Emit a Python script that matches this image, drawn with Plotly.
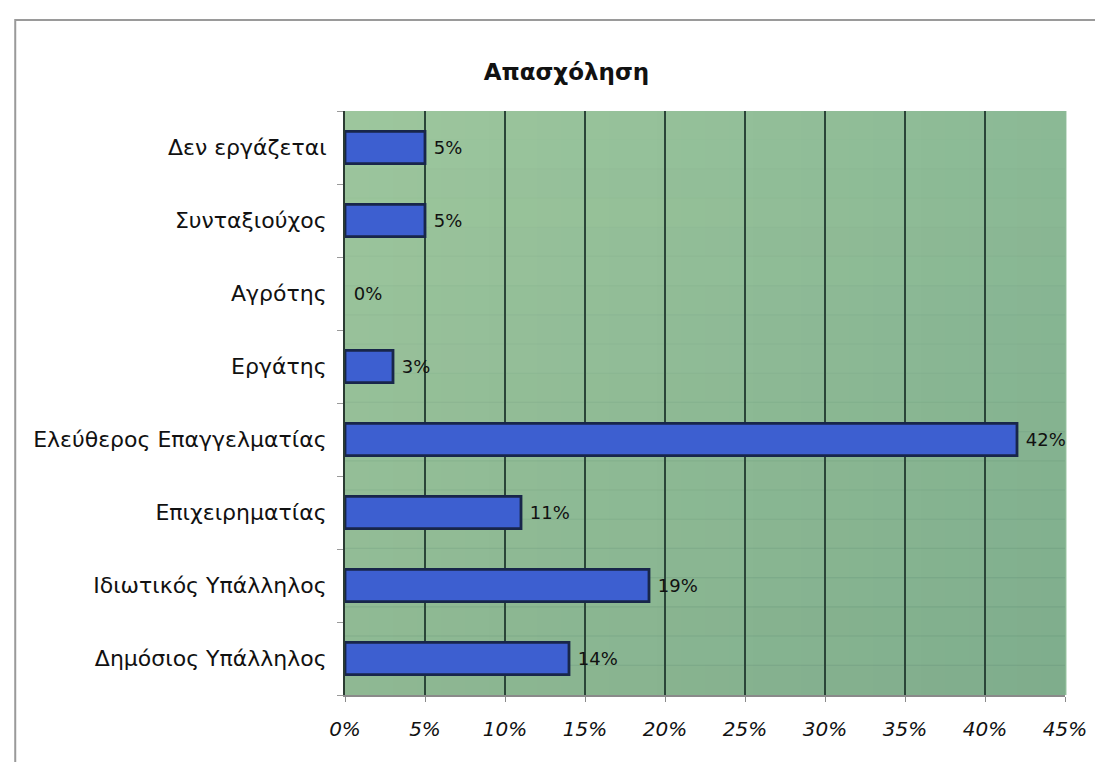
import plotly.graph_objects as go

categories = ["Δημόσιος Υπάλληλος", "Ιδιωτικός Υπάλληλος", "Επιχειρηματίας",
              "Ελεύθερος Επαγγελματίας", "Εργάτης", "Αγρότης", "Συνταξιούχος",
              "Δεν εργάζεται"]
values = [0.14, 0.19, 0.11, 0.42, 0.03, 0.00, 0.05, 0.05]
x_ticks = [0, 0.05, 0.10, 0.15, 0.20, 0.25, 0.30, 0.35, 0.40, 0.45]
title_text = "Απασχόληση"

FONT = "DejaVu Sans, Liberation Sans, Arial, sans-serif"

line_widths = [2.8 if v > 0 else 0 for v in values]

fig = go.Figure()
fig.add_trace(go.Bar(
    y=categories, x=values, orientation="h",
    width=0.44,
    marker=dict(color="#3d5fd0", line=dict(color="#18264a", width=line_widths)),
    texttemplate=" %{x:.0%}", textposition="outside",
    textfont=dict(family=FONT, size=18, color="#111111"),
    cliponaxis=False,
))

# gradient background (style only)
shapes = []
n = 30
c0 = (158, 199, 158)
c1 = (140, 186, 150)
for i in range(n):
    t = i / (n - 1)
    col = tuple(int(round(c0[k] + (c1[k] - c0[k]) * t)) for k in range(3))
    shapes.append(dict(type="rect", xref="x domain", yref="y domain",
                       x0=i / n, x1=(i + 1) / n + 0.002, y0=0, y1=1,
                       fillcolor="rgb(%d,%d,%d)" % col, line=dict(width=0), layer="below"))
m = 20
for j in range(m):
    a = 0.12 * (1 - (j + 0.5) / m)
    shapes.append(dict(type="rect", xref="x domain", yref="y domain",
                       x0=0, x1=1, y0=j / m, y1=(j + 1) / m + 0.002,
                       fillcolor="rgba(30,80,70,%.3f)" % a, line=dict(width=0), layer="below"))
# outer frame of the scanned chart
shapes.append(dict(type="rect", xref="paper", yref="paper",
                   x0=-0.458, x1=1.2, y0=-0.5, y1=1.156,
                   line=dict(color="#9a9a9a", width=2), fillcolor="rgba(0,0,0,0)", layer="below"))

fig.update_layout(
    width=1095, height=754,
    margin=dict(l=337, r=38, t=103, b=67),
    paper_bgcolor="white",
    plot_bgcolor="rgba(0,0,0,0)",
    showlegend=False,
    shapes=shapes,
    title=dict(text="<b>" + title_text + "</b>", x=0.51, xanchor="center",
               y=0.915, yanchor="middle",
               font=dict(family=FONT, size=23, color="#111111")),
    xaxis=dict(range=[0, 0.45], tickvals=x_ticks, tickformat=".0%",
               showgrid=True, gridcolor="#2a4538", gridwidth=1.5,
               zeroline=False, showline=True, linecolor="#8a8a8a", linewidth=1.5,
               ticks="outside", ticklen=5, tickcolor="#8a8a8a",
               ticklabelstandoff=10,
               tickfont=dict(family=FONT, size=20, color="#111111", style="italic"),
               fixedrange=True),
    yaxis=dict(type="category", categoryorder="array", categoryarray=categories,
               showgrid=False, zeroline=False,
               showline=True, linecolor="#2b3b33", linewidth=2,
               ticks="outside", ticklen=6, tickcolor="#9a9a9a", tickson="boundaries",
               ticklabelstandoff=12,
               tickfont=dict(family=FONT, size=22, color="#111111"),
               fixedrange=True),
    bargap=0.56,
)

fig.write_html("out.html")
